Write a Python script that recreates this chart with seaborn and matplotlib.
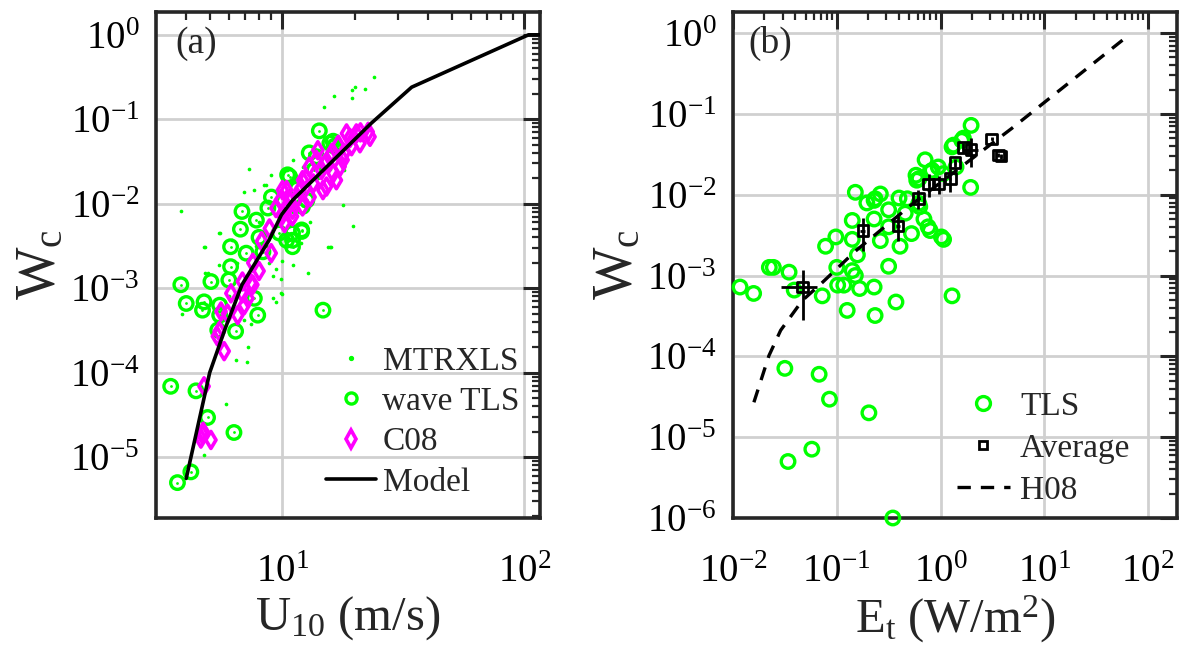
import numpy as np
import pandas as pd
import matplotlib
matplotlib.use("Agg")
import matplotlib.pyplot as plt
import seaborn as sns
from matplotlib.lines import Line2D
from matplotlib.ticker import LogLocator, LogFormatterMathtext, NullFormatter

# ---------------- data: panel (a) ----------------
mtrxls_u = [23.9, 21.9, 19.3, 19.9, 19.3, 16.4, 14.9, 7.3, 3.8, 7.65, 6.95, 8.4, 9.0, 17.8, 19.6,
            15.7, 12.7, 9.9, 9.4, 4.8, 4.8, 5.5, 9.1, 7.8, 6.2, 8.8, 15.7, 12.1, 11.0, 7.2, 6.4,
            7.1, 5.84, 4.74, 3.86, 6.95, 7.4, 10.0, 9.1, 8.55, 4.74, 5.48, 5.48, 4.9, 9.4, 15.4,
            15.9, 11.9, 10.0, 9.9, 12.9, 10.4, 11.0, 12.0, 14.0, 16.0, 11.0, 13.0, 8.0, 6.5, 9.5,
            17.0, 20.0, 18.0, 14.5, 7.0, 6.0, 10.5, 13.0]
mtrxls_w = [0.32, 0.23, 0.22, 0.24, 0.18, 0.19, 0.14, 0.026, 0.0083, 0.0145, 0.0139, 0.0167, 0.022,
            0.0097, 0.0054, 0.0031, 0.0015, 8.7e-4, 6.9e-4, 0.0031, 0.0015, 0.0045, 0.0014, 0.0032,
            0.0037, 0.002, 0.026, 0.0275, 0.033, 2.0e-4, 1.4e-4, 1.35e-4, 4.3e-5, 1.05e-5, 5e-4,
            4.2e-4, 3.8e-4, 8.5e-4, 7.6e-4, 0.0166, 0.0031, 0.0045, 0.0019, 0.0015, 0.0017, 0.0031,
            0.0031, 0.0034, 0.0021, 0.0013, 0.036, 0.025, 0.0019, 0.012, 0.02, 0.03, 0.008, 0.015,
            0.006, 0.002, 0.01, 0.045, 0.06, 0.025, 0.04, 0.0012, 8e-4, 0.004, 0.006]

tls_a_u = [14.2, 14.7, 10.5, 6.8, 7.8, 8.7, 6.1, 6.7, 6.1, 5.06, 3.8, 4.0, 4.74, 4.67, 5.5, 7.9,
           7.65, 6.0, 7.08, 8.3, 9.7, 11.0, 12.0, 11.0, 12.9, 13.8, 15.7, 16.4, 12.6, 12.1, 6.4,
           3.45, 4.39, 4.9, 6.3, 4.18, 3.68, 5.5, 5.4, 16.2, 10.7, 11.0, 12.0, 10.4, 9.0, 11.5,
           13.5, 8.0]
tls_a_w = [0.073, 5.5e-4, 0.022, 0.0081, 0.0064, 0.0089, 0.0031, 0.005, 0.0018, 0.0012, 0.0011,
           6.6e-4, 6.9e-4, 5.5e-4, 6.3e-4, 4.8e-4, 7.6e-4, 0.00125, 0.0026, 0.0027, 0.0045, 0.0037,
           0.0049, 0.0031, 0.04, 0.036, 0.052, 0.048, 0.011, 0.0093, 3.1e-4, 6.9e-5, 6.1e-5,
           2.95e-5, 1.96e-5, 6.7e-6, 5.0e-6, 4.8e-4, 3.2e-4, 0.055, 0.021, 0.0045, 0.0047, 0.0037,
           0.012, 0.015, 0.025, 0.004]

c08_u = [4.6, 5.06, 4.7, 4.67, 4.74, 5.74, 5.48, 5.38, 5.57, 5.93, 6.53, 6.95, 7.54, 6.12, 6.83,
         6.83, 7.4, 8.0, 7.54, 8.98, 8.2, 8.83, 9.4, 10.0, 10.0, 7.2, 10.2, 10.7, 11.8, 12.9, 14.0,
         15.7, 18.4, 20.2, 22.6, 23.0, 19.3, 17.8, 16.2, 15.2, 13.4, 12.1, 11.0, 14.7, 16.7, 17.3,
         20.9, 13.8, 12.1, 10.4, 11.0, 12.5, 13.0, 14.5, 15.0, 16.0, 17.0, 18.0, 19.0, 21.0, 11.5,
         10.5, 9.8]
c08_w = [1.66e-5, 1.6e-5, 2.0e-5, 1.86e-5, 6.9e-5, 1.8e-4, 3.1e-4, 2.7e-4, 5.3e-4, 5.0e-4, 4.8e-4,
         6.3e-4, 0.0011, 8.7e-4, 8.7e-4, 0.0012, 0.00115, 0.0016, 0.002, 0.0026, 0.0036, 0.0051,
         0.0089, 0.0145, 0.0074, 7.6e-4, 0.0059, 0.011, 0.0145, 0.0275, 0.043, 0.036, 0.068, 0.068,
         0.071, 0.062, 0.048, 0.033, 0.023, 0.016, 0.0174, 0.0093, 0.0071, 0.0145, 0.019, 0.0275,
         0.052, 0.033, 0.019, 0.0145, 0.0085, 0.02, 0.012, 0.025, 0.03, 0.04, 0.05, 0.04, 0.06,
         0.07, 0.012, 0.009, 0.011]

model_u = [4.0, 5.0, 5.8, 6.8, 8.8, 9.9, 11.0, 23.3, 34.2, 104.0, 116.0]
model_w = [5.6e-6, 1.0e-4, 3.35e-4, 1.1e-3, 3.7e-3, 7.4e-3, 0.011, 0.09, 0.24, 1.0, 1.0]

# ---------------- data: panel (b) ----------------
tls_b_e = [1.97, 1.60, 1.29, 1.66, 1.33, 0.71, 0.95, 0.83, 0.79, 0.58, 0.62, 0.59, 1.06, 1.41,
           1.95, 0.151, 0.263, 0.234, 0.195, 0.229, 0.398, 0.479, 0.316, 0.631, 0.617, 0.229,
           0.141, 0.457, 0.692, 0.316, 0.759, 0.794, 0.525, 1.02, 1.07, 0.263, 0.141, 0.098,
           0.078, 0.407, 0.158, 0.316, 0.100, 0.141, 0.151, 0.0224, 0.0245, 0.0347, 0.0117,
           0.0158, 0.0389, 0.0724, 0.102, 0.117, 0.166, 0.229, 0.372, 0.126, 0.234, 1.29,
           0.0316, 0.0676, 0.0851, 0.204, 0.0575, 0.0339, 0.347]
tls_b_w = [0.072, 0.047, 0.039, 0.050, 0.041, 0.027, 0.022, 0.020, 0.019, 0.0174, 0.0158, 0.0151,
           0.0182, 0.022, 0.0123, 0.0107, 0.0102, 0.0089, 0.0079, 0.0085, 0.0091, 0.0089, 0.0065,
           0.0071, 0.0078, 0.0050, 0.0048, 0.0059, 0.0050, 0.0040, 0.0040, 0.0036, 0.0033, 0.0030,
           0.0028, 0.0027, 0.0028, 0.0030, 0.0023, 0.0023, 0.0018, 0.0013, 0.00126, 0.00115,
           0.0010, 0.00126, 0.00126, 0.0011, 0.00072, 0.0006, 0.00066, 0.00056, 0.00076, 0.00076,
           0.00069, 0.00072, 0.00047, 0.00037, 0.00032, 0.00056, 7.1e-5, 6.0e-5, 2.95e-5, 2.0e-5,
           7.1e-6, 5.0e-6, 1.0e-6]

avg_e = [0.047, 0.179, 0.39, 0.61, 0.77, 0.96, 1.24, 1.38, 1.66, 1.97, 3.12, 3.61, 3.83]
avg_w = [7.2e-4, 3.6e-3, 4.1e-3, 9.0e-3, 0.0136, 0.0136, 0.0157, 0.025, 0.038, 0.036, 0.049,
         0.031, 0.030]
avg_e_err = [0.018, 0.01, 0.02, 0.02, 0.02, 0.02, 0.03, 0.03, 0.04, 0.34, 0.05, 0.05, 0.05]
avg_w_err = [4.4e-4, 1.6e-3, 1.4e-3, 2.4e-3, 4.2e-3, 3.5e-3, 4.8e-3, 3.0e-3, 5.0e-3, 0.014,
             0.002, 0.002, 0.002]

h08_e = [0.0159, 0.0222, 0.0288, 0.0465, 0.0697, 0.151, 0.53, 4.85, 59.7]
h08_w = [2.7e-5, 1.02e-4, 2.1e-4, 4.9e-4, 7.8e-4, 2.0e-3, 7.6e-3, 0.066, 0.86]

# ---------------- style ----------------
sns.set_style("white")
plt.rcParams["font.family"] = ["Liberation Serif", "DejaVu Serif"]
plt.rcParams["mathtext.fontset"] = "custom"
plt.rcParams["mathtext.rm"] = "Liberation Serif"
plt.rcParams["mathtext.it"] = "Liberation Serif:italic"
plt.rcParams["axes.unicode_minus"] = False

GREEN = "#00ff00"
MAG = "#ff00ff"
SPINE = "#262626"

W, H = 1181, 665
fig = plt.figure(figsize=(W / 100, H / 100), dpi=100)
ax1 = fig.add_axes([156 / W, 1 - 518 / H, (540 - 156) / W, (518 - 12) / H])
ax2 = fig.add_axes([733 / W, 1 - 518 / H, (1177 - 733) / W, (518 - 12) / H])


def style_axes(ax):
    ax.set_xscale("log")
    ax.set_yscale("log")
    ax.xaxis.set_major_locator(LogLocator(base=10, numticks=20))
    ax.yaxis.set_major_locator(LogLocator(base=10, numticks=20))
    ax.xaxis.set_minor_locator(LogLocator(base=10, subs=np.arange(2, 10), numticks=20))
    ax.yaxis.set_minor_locator(LogLocator(base=10, subs=np.arange(2, 10), numticks=20))
    ax.xaxis.set_major_formatter(LogFormatterMathtext())
    ax.yaxis.set_major_formatter(LogFormatterMathtext())
    ax.xaxis.set_minor_formatter(NullFormatter())
    ax.yaxis.set_minor_formatter(NullFormatter())
    ax.tick_params(which="both", direction="in", top=True, right=True, color=SPINE,
                   labelsize=28, labelcolor="black")
    ax.tick_params(which="major", length=12, width=2.2)
    ax.tick_params(axis="x", which="major", pad=26)
    ax.tick_params(axis="y", which="major", pad=12)
    ax.tick_params(which="minor", length=6, width=1.6)
    ax.grid(True, which="major", color="#d0d0d0", lw=2)
    ax.grid(False, which="minor")
    ax.set_axisbelow(True)
    for s in ax.spines.values():
        s.set_linewidth(2.6)
        s.set_color(SPINE)
        s.set_visible(True)


# ---------------- panel (a) ----------------
style_axes(ax1)
sns.scatterplot(x=mtrxls_u, y=mtrxls_w, ax=ax1, marker="o", s=7, color=GREEN,
                linewidth=0, zorder=3)
sns.scatterplot(x=tls_a_u, y=tls_a_w, ax=ax1, marker="o", s=95, facecolor="none",
                edgecolor=GREEN, linewidth=2.4, zorder=4)
sns.scatterplot(x=tls_a_u, y=tls_a_w, ax=ax1, marker="o", s=4, color=GREEN,
                linewidth=0, zorder=4)
sns.scatterplot(x=c08_u, y=c08_w, ax=ax1, marker="d", s=75, facecolor="none",
                edgecolor=MAG, linewidth=2.6, zorder=5)
sns.lineplot(x=model_u, y=model_w, ax=ax1, sort=False, estimator=None, color="black",
             lw=2.6, zorder=6)
ax1.set_xlim(3, 116)
ax1.set_ylim(10 ** -5.72, 10 ** 0.27)
ax1.set_xlabel(r"U$_{\mathrm{10}}$ (m/s)", fontsize=35, labelpad=2)
ax1.set_ylabel(r"W$_{\mathrm{c}}$", fontsize=40, labelpad=2)
ax1.text(0.05, 0.972, "(a)", transform=ax1.transAxes, fontsize=27, va="top", ha="left")

handles_a = [
    Line2D([], [], ls="none", marker="o", ms=2.8, color=GREEN, mec=GREEN),
    Line2D([], [], ls="none", marker="o", ms=8, mfc="none", mec=GREEN, mew=2.4),
    Line2D([], [], ls="none", marker="d", ms=9, mfc="none", mec=MAG, mew=2.6),
    Line2D([], [], color="black", lw=2.6),
]
ax1.legend(handles_a, ["MTRXLS", "wave TLS", "C08", "Model"], loc="lower right",
           bbox_to_anchor=(1.0, 0.0), frameon=False, fontsize=24, handlelength=1.5,
           handletextpad=0.2, labelspacing=0.3, borderaxespad=0.2)

# ---------------- panel (b) ----------------
style_axes(ax2)
sns.scatterplot(x=tls_b_e, y=tls_b_w, ax=ax2, marker="o", s=95, facecolor="none",
                edgecolor=GREEN, linewidth=2.4, zorder=4, clip_on=False)
sns.lineplot(x=h08_e, y=h08_w, ax=ax2, sort=False, estimator=None, color="black",
             lw=2.4, zorder=5, dashes=(4, 3))
ax2.errorbar(avg_e, avg_w, xerr=avg_e_err, yerr=avg_w_err, fmt="none", ecolor="black",
             elinewidth=2.0, capsize=0, zorder=6)
sns.scatterplot(x=avg_e, y=avg_w, ax=ax2, marker="s", s=60, facecolor="none",
                edgecolor="black", linewidth=2.0, zorder=7)
ax2.set_xlim(0.01, 190)
ax2.set_ylim(1e-6, 10 ** 0.26)
ax2.set_xlabel(r"E$_{\mathrm{t}}$ (W/m$^{\mathrm{2}}$)", fontsize=35, labelpad=2)
ax2.set_ylabel(r"W$_{\mathrm{c}}$", fontsize=40, labelpad=2)
ax2.text(0.034, 0.972, "(b)", transform=ax2.transAxes, fontsize=27, va="top", ha="left")

handles_b = [
    Line2D([], [], ls="none", marker="o", ms=10, mfc="none", mec=GREEN, mew=2.4),
    Line2D([], [], ls="none", marker="s", ms=6, mfc="none", mec="black", mew=2.0),
    Line2D([], [], color="black", lw=2.4, dashes=(4, 3)),
]
ax2.legend(handles_b, ["TLS", "Average", "H08"], loc="lower right",
           bbox_to_anchor=(0.94, -0.016), frameon=False, fontsize=24, handlelength=1.6,
           handletextpad=0.3, labelspacing=0.35, borderaxespad=0.2)

fig.savefig("out.png", dpi=100)
